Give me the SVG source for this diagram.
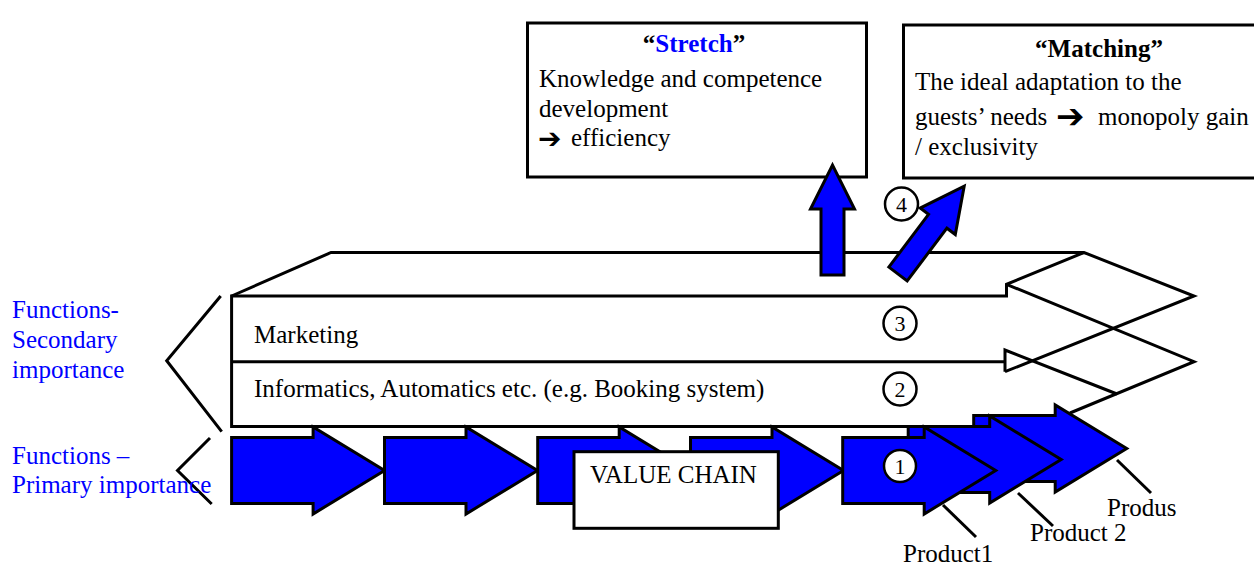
<svg xmlns="http://www.w3.org/2000/svg" width="1254" height="565" viewBox="0 0 1254 565">
<style>
.ln{stroke:#000;stroke-width:3;fill:none;stroke-linejoin:miter}
.box{stroke:#000;stroke-width:3;fill:none}
.wbox{stroke:#000;stroke-width:3;fill:#fff}
.blue{fill:#0000ff;stroke:#000;stroke-width:3;stroke-linejoin:miter}
.t{font-family:"Liberation Serif","Times New Roman",serif;font-size:25px;fill:#000}
.b{font-weight:bold}
.bl{fill:#0000ff}
.ar{font-family:"DejaVu Sans",sans-serif;font-weight:bold;fill:#000}
.num{font-family:"Liberation Serif","Times New Roman",serif;font-size:22px;fill:#000;text-anchor:middle}
.circ{fill:#fff;stroke:#000;stroke-width:2.5}
</style>
<defs>
<path id="chev" d="M0,-33 H81.5 V-43.5 L153,0 L81.5,43.5 V33 H0 Z"/>
<path id="upar" d="M-11.5,0 V-66 H-22 L0,-110 L22,-66 H11.5 V0 Z"/>
</defs>
<rect width="1254" height="565" fill="#fff"/>

<g id="connectors">
<path class="ln" d="M231.6,296 L331,252.5 H1084 L1194,296 L1005,371.7"/>
<path class="ln" d="M1084,252.5 L1006.5,284.3 V296 H231.6 V426.5 H908"/>
<path class="ln" d="M1006.5,284.3 L1194,361.7 L1070,413"/>
<path class="ln" d="M1117,394 L1005,350 V371.7"/>
<path class="ln" d="M231.6,361.7 H1005"/>
<polyline class="ln" points="220.7,296 166.7,360.7 221.7,431.7"/>
<polyline class="ln" points="210,438 177.5,470.5 211.7,504"/>
<line class="ln" x1="943" y1="505" x2="976" y2="537"/>
<line class="ln" x1="1018" y1="493" x2="1053" y2="526"/>
<line class="ln" x1="1117" y1="460" x2="1151" y2="493"/>
</g>

<g id="labels-left">
<text class="t bl" x="12" y="318">Functions-</text>
<text class="t bl" x="12" y="348">Secondary</text>
<text class="t bl" x="12" y="378">importance</text>
<text class="t bl" x="12" y="464">Functions –</text>
<text class="t bl" x="12" y="493">Primary importance</text>
</g>

<g id="band-marketing">
<text class="t" x="254" y="343">Marketing</text>
<circle class="circ" cx="900" cy="323.3" r="16.5"/>
<text class="num" x="900" y="331">3</text>
</g>
<g id="band-informatics">
<text class="t" x="254" y="397">Informatics, Automatics etc. (e.g. Booking system)</text>
<circle class="circ" cx="900" cy="389" r="16.5"/>
<text class="num" x="900" y="397">2</text>
</g>

<g id="value-chain">
<use href="#chev" class="blue" x="231.6" y="470.5"/>
<use href="#chev" class="blue" x="384.5" y="470.5"/>
<use href="#chev" class="blue" x="537.7" y="470.5"/>
<use href="#chev" class="blue" x="690.5" y="470.5"/>
<rect class="wbox" x="574" y="451.7" width="204.3" height="76.6"/>
<text class="t" x="590" y="483">VALUE CHAIN</text>
</g>

<g id="product3">
<use href="#chev" class="blue" x="973.7" y="448.5"/>
<text class="t" x="1107" y="516">Produs</text>
</g>
<g id="product2">
<use href="#chev" class="blue" x="908.2" y="459.5"/>
<text class="t" x="1030" y="541">Product 2</text>
</g>
<g id="product1">
<use href="#chev" class="blue" x="842.7" y="470.5"/>
<circle class="circ" cx="900" cy="466" r="16"/>
<text class="num" x="900" y="474">1</text>
<text class="t" x="903" y="562">Product1</text>
</g>

<g id="stretch">
<rect class="box" x="527.5" y="23" width="339" height="154"/>
<text class="t b" x="694" y="52" text-anchor="middle">“<tspan class="bl">Stretch</tspan>”</text>
<text class="t" x="539" y="87">Knowledge and competence</text>
<text class="t" x="539" y="117">development</text>
<text class="t" y="146"><tspan class="ar" x="538" y="148" font-size="28">➔</tspan><tspan x="571" y="146">efficiency</tspan></text>
</g>

<g id="matching">
<rect class="box" x="903.5" y="25" width="360" height="153"/>
<text class="t b" x="1099" y="57" text-anchor="middle">“Matching”</text>
<text class="t" x="915" y="90">The ideal adaptation to the</text>
<text class="t" y="125"><tspan x="915">guests’ needs</tspan><tspan class="ar" x="1056" y="128" font-size="34">➔</tspan><tspan x="1098" y="125">monopoly gain</tspan></text>
<text class="t" x="915" y="155">/ exclusivity</text>
</g>

<g id="arrows-up">
<use href="#upar" class="blue" transform="translate(832.5,275)"/>
<use href="#upar" class="blue" transform="translate(898,274) rotate(37)"/>
<circle class="circ" cx="901.5" cy="204" r="16.5"/>
<text class="num" x="901.5" y="212">4</text>
</g>
</svg>
